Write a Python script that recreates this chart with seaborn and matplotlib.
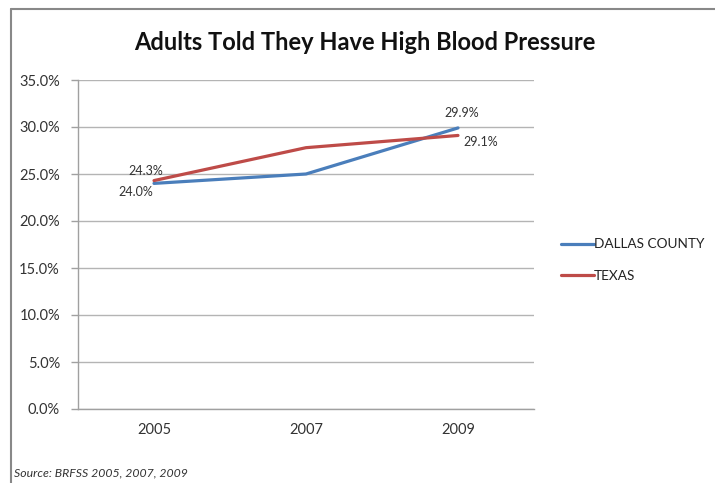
import matplotlib
matplotlib.use("Agg")
import matplotlib.pyplot as plt
from matplotlib.lines import Line2D
from matplotlib.ticker import FixedLocator, PercentFormatter
import seaborn as sns
import pandas as pd

years = ["2005", "2007", "2009"]
dallas = [24.0, 25.0, 29.9]
texas = [24.3, 27.8, 29.1]
series_names = ["DALLAS COUNTY", "TEXAS"]
colors = ["#4A7EBB", "#BE4B48"]

sns.set_theme(style="white")
plt.rcParams['font.family'] = ['Lato', 'DejaVu Sans']

df = pd.DataFrame({
    "year": years * 2,
    "value": dallas + texas,
    "series": [series_names[0]] * 3 + [series_names[1]] * 3,
})

fig = plt.figure(figsize=(7.15, 4.83), dpi=100)
fig.patch.set_facecolor("white")
ax = fig.add_axes([78 / 715, 1 - 409 / 483, (534 - 78) / 715, (409 - 80) / 483])

sns.lineplot(data=df, x="year", y="value", hue="series", palette=colors,
             linewidth=2.3, ax=ax, legend=False, sort=False)

ax.set_xlim(-0.5, 2.5)
ax.set_ylim(0, 35)
ax.set_yticks([0, 5, 10, 15, 20, 25, 30, 35])
ax.yaxis.set_major_formatter(PercentFormatter(decimals=1))
ax.set_xticks(range(len(years)))
ax.set_xticklabels(years)
ax.xaxis.set_minor_locator(FixedLocator([-0.5, 0.5, 1.5, 2.5]))
ax.tick_params(axis="x", which="major", length=0, pad=10, labelsize=10.5, colors="#333333")
ax.tick_params(axis="x", which="minor", length=5, width=1, color="#a0a0a0", direction="out")
ax.tick_params(axis="y", which="major", length=5, width=1, color="#a0a0a0", direction="out",
               pad=8, labelsize=10.5, labelcolor="#333333", left=True)
ax.set_xlabel("")
ax.set_ylabel("")
ax.grid(axis="y", color="#b4b4b4", linewidth=1)
ax.set_axisbelow(True)
for s in ["top", "right"]:
    ax.spines[s].set_visible(False)
for s in ["left", "bottom"]:
    ax.spines[s].set_color("#a0a0a0")
    ax.spines[s].set_linewidth(1)

# data labels
labels = [
    (0, dallas[0], (-13, -6)),
    (0, texas[0], (-6, 7)),
    (2, dallas[2], (3, 11)),
    (2, texas[2], (16, -5)),
]
for x, v, off in labels:
    ax.annotate(f"{v:.1f}%", xy=(x, v), xytext=off, textcoords="offset points",
                ha="center", va="center", fontsize=9, color="#333333")

handles = [Line2D([0], [0], color=c, lw=2.3) for c in colors]
fig.legend(handles, series_names, loc="center left", bbox_to_anchor=(549 / 715, 1 - 260 / 483),
           frameon=False, fontsize=9.8, handlelength=2.4, handletextpad=0.0,
           labelspacing=1.4, labelcolor="#222222")

fig.text(365 / 715, 1 - 42 / 483, "Adults Told They Have High Blood Pressure",
         ha="center", va="center", fontsize=17, fontweight="bold", color="#111111")
fig.text(14 / 715, 1 - 473 / 483, "Source: BRFSS 2005, 2007, 2009",
         ha="left", va="center", fontsize=8.8, style="italic", color="#333333")

# outer frame lines
fig.add_artist(Line2D([11 / 715, 1], [1 - 9 / 483, 1 - 9 / 483], color="#888888", lw=1.5))
fig.add_artist(Line2D([11 / 715, 11 / 715], [0, 1 - 9 / 483], color="#888888", lw=1.5))

fig.savefig("out.png", dpi=100, facecolor="white")
